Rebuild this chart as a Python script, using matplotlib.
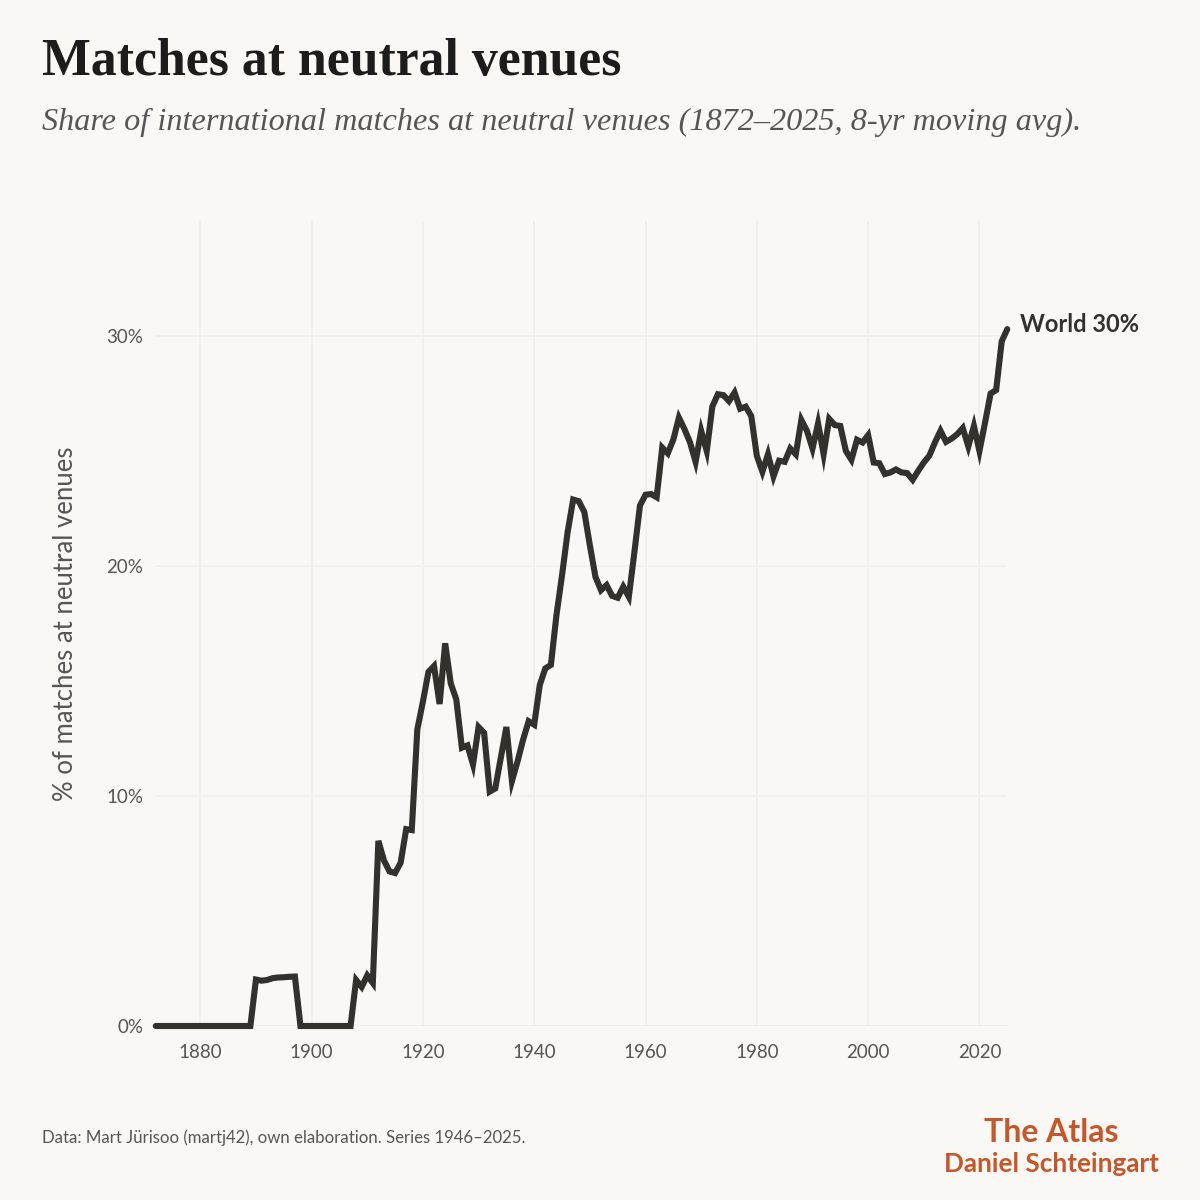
import matplotlib.pyplot as plt
import matplotlib.ticker as mticker

# colours
bg = '#f9f8f4'
ink = '#33312c'
grey = '#555555'
grid = '#f1efe8'
orange = '#c4582c'

# yearly share of matches at neutral venues, 8-yr moving average (%)
years = list(range(1872, 2026))
share = (
    [0.0] * 18                                                     # 1872-1889
    + [2.02, 1.97, 2.0, 2.08, 2.11, 2.12, 2.14, 2.15]              # 1890-1897
    + [0.0] * 10                                                   # 1898-1907
    + [2.0, 1.7]                                                   # 1908-1909
    + [2.2, 1.87, 8.05, 7.2, 6.72, 6.65, 7.1, 8.56, 8.52, 12.9]    # 1910s
    + [14.1, 15.4, 15.65, 14.0, 16.64, 14.9, 14.2, 12.1, 12.2, 11.37]
    + [13.0, 12.75, 10.19, 10.33, 11.66, 13.0, 10.65, 11.5, 12.45, 13.25]
    + [13.1, 14.83, 15.55, 15.7, 17.87, 19.6, 21.47, 22.89, 22.82, 22.35]
    + [20.9, 19.53, 18.95, 19.17, 18.7, 18.62, 19.1, 18.66, 20.6, 22.63]
    + [23.1, 23.13, 22.99, 25.15, 24.9, 25.5, 26.45, 25.95, 25.37, 24.53]
    + [25.88, 25.0, 26.93, 27.47, 27.43, 27.17, 27.54, 26.84, 26.93, 26.52]
    + [24.79, 24.1, 24.86, 23.9, 24.58, 24.53, 25.11, 24.86, 26.35, 25.88]
    + [25.11, 26.2, 24.86, 26.4, 26.13, 26.09, 25.0, 24.62, 25.49, 25.37]
    + [25.69, 24.5, 24.47, 24.0, 24.07, 24.2, 24.07, 24.04, 23.75, 24.14]
    + [24.5, 24.8, 25.37, 25.88, 25.4, 25.54, 25.73, 26.0, 25.2, 26.09]
    + [25.0, 26.23, 27.5, 27.65, 29.77, 30.3]                      # 2020-2025
)
x_ticks = [1880, 1900, 1920, 1940, 1960, 1980, 2000, 2020]
y_ticks = [0, 10, 20, 30]

plt.rcParams['font.family'] = ['Lato', 'DejaVu Sans']

fig = plt.figure(figsize=(12, 12), dpi=100, facecolor=bg)
ax = fig.add_axes([0.1298, 0.145, 0.7096, 0.6708])
ax.set_facecolor(bg)

ax.plot(years, share, color=ink, lw=4.4, solid_capstyle='round',
        solid_joinstyle='miter', clip_on=False, zorder=3)

ax.set_xlim(1872, 2025)
ax.set_ylim(0, 35)
ax.set_xticks(x_ticks)
ax.set_yticks(y_ticks)
ax.yaxis.set_major_formatter(mticker.FuncFormatter(lambda v, p: f'{v:.0f}%'))
ax.grid(True, color=grid, lw=1.2, zorder=0)
for s in ax.spines.values():
    s.set_visible(False)
ax.tick_params(axis='both', length=0, labelsize=13.5, labelcolor=grey)
ax.tick_params(axis='x', pad=13)
ax.tick_params(axis='y', pad=9)
ax.set_ylabel('% of matches at neutral venues', fontsize=18.5, color=grey, labelpad=20)

# end label
ax.annotate(f'World {share[-1]:.0f}%', xy=(years[-1], share[-1]), xytext=(9, 3),
            textcoords='offset points', va='center', ha='left',
            fontsize=17, fontweight='bold', color=ink, annotation_clip=False)

fig.text(0.035, 0.9375, 'Matches at neutral venues', fontsize=37.3, fontweight='bold',
         family='Liberation Serif', color='#1c1c1c', va='baseline')
fig.text(0.035, 0.8917,
         'Share of international matches at neutral venues (1872\u20132025, 8-yr moving avg).',
         fontsize=23.2, style='italic', family='Liberation Serif', color=grey, va='baseline')

fig.text(0.035, 0.0475, 'Data: Mart J\u00fcrisoo (martj42), own elaboration. Series 1946\u20132025.',
         fontsize=12.1, color=grey, va='baseline')
fig.text(0.876, 0.0483, 'The Atlas', fontsize=23, fontweight='bold', color=orange,
         ha='center', va='baseline')
fig.text(0.876, 0.0233, 'Daniel Schteingart', fontsize=18.8, fontweight='bold', color=orange,
         ha='center', va='baseline')

plt.savefig('out.png', dpi=100, facecolor=bg)
